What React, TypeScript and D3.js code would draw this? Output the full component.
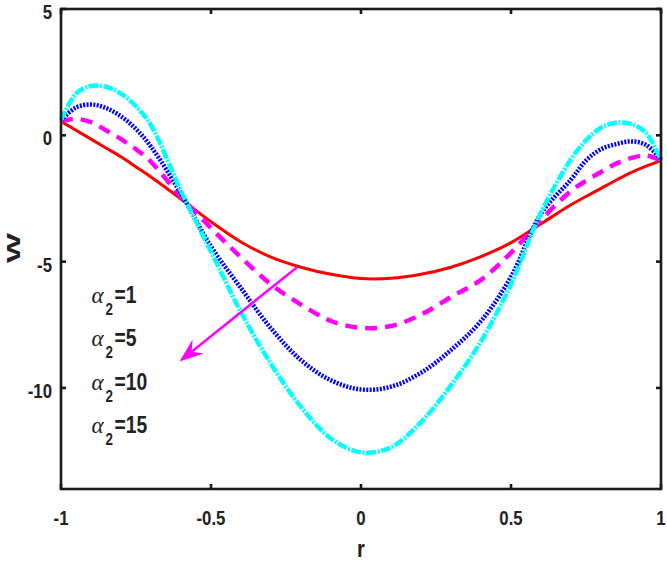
import React, { useEffect, useRef } from 'react';
import * as d3 from 'd3';

// radial coordinate samples
const rVals = [-1, -0.95, -0.9, -0.85, -0.8, -0.75, -0.7, -0.6, -0.5, -0.4, -0.3, -0.2, -0.1, 0, 0.1, 0.2, 0.3, 0.4, 0.5, 0.6, 0.7, 0.75, 0.8, 0.85, 0.9, 0.95, 1];

// W for each alpha_2
const wAlpha1 = [0.55, 0.2, -0.15, -0.5, -0.85, -1.25, -1.65, -2.52, -3.42, -4.22, -4.82, -5.22, -5.5, -5.67, -5.66, -5.5, -5.22, -4.8, -4.25, -3.5, -2.75, -2.42, -2.1, -1.78, -1.48, -1.22, -1.0];
const wAlpha5 = [0.55, 0.65, 0.52, 0.2, -0.15, -0.55, -1.05, -2.43, -3.67, -4.83, -5.9, -6.7, -7.35, -7.62, -7.55, -7.1, -6.4, -5.72, -4.65, -3.35, -2.2, -1.8, -1.45, -1.12, -0.9, -0.8, -1.0];
const wAlpha10 = [0.6, 1.1, 1.22, 1.08, 0.75, 0.25, -0.45, -2.3, -4.4, -6.05, -7.64, -8.9, -9.7, -10.06, -9.95, -9.4, -8.5, -7.35, -5.6, -3.1, -1.75, -1.0, -0.55, -0.35, -0.24, -0.38, -0.95];
const wAlpha15 = [0.6, 1.65, 1.95, 1.92, 1.65, 1.15, 0.4, -2.2, -4.6, -7.0, -9.05, -10.75, -12.0, -12.55, -12.35, -11.35, -9.9, -8.15, -5.9, -3.05, -0.95, -0.2, 0.3, 0.5, 0.45, 0.1, -0.98];

const xTicks = [-1, -0.5, 0, 0.5, 1];
const yTicks = [-10, -5, 0, 5];
const legendLabels = ['1', '5', '10', '15'];

const series = [
  { values: wAlpha1, color: '#ff0000', width: 3, dash: 'none' },
  { values: wAlpha5, color: '#ff00ff', width: 4.5, dash: '12 8' },
  { values: wAlpha10, color: '#0000ff', width: 4.5, dash: '2 1.4' },
  { values: wAlpha15, color: '#00ffff', width: 4.5, dash: '10 1.5 2 1.5' },
];

const W = 667;
const H = 564;
const numFont = '"Liberation Sans Narrow", "Liberation Sans", Arial, sans-serif';
const squeeze = 0.84; // the original uses a condensed face

const App: React.FC = () => {
  const svgRef = useRef<SVGSVGElement>(null);

  useEffect(() => {
    if (!svgRef.current) return;
    const svg = d3.select(svgRef.current);
    svg.selectAll('*').remove();

    const left = 61, right = 661, top = 9, bottom = 489;

    const x = d3.scaleLinear().domain([-1, 1]).range([left, right]);
    const y = d3.scaleLinear().domain([-14, 5]).range([bottom, top]);

    svg.append('rect').attr('width', W).attr('height', H).attr('fill', '#ffffff');

    // condensed bold text helper
    const label = (tx: number, ty: number, str: string, size: number, anchor = 'start') =>
      svg.append('text')
        .attr('transform', `translate(${tx},${ty}) scale(${squeeze},1)`)
        .attr('text-anchor', anchor)
        .attr('font-family', numFont).attr('font-weight', 'bold').attr('font-size', size)
        .attr('fill', '#222')
        .text(str);

    // curves
    series.forEach(s => {
      const pts = rVals.map((r, i) => [r, s.values[i]] as [number, number]);
      const line = d3.line<[number, number]>()
        .x(d => x(d[0]))
        .y(d => y(d[1]))
        .curve(d3.curveCatmullRom.alpha(0.5));
      svg.append('path')
        .datum(pts)
        .attr('fill', 'none')
        .attr('stroke', s.color)
        .attr('stroke-width', s.width)
        .attr('stroke-dasharray', s.dash)
        .attr('d', line);
    });

    // axes box
    svg.append('rect')
      .attr('x', left).attr('y', top)
      .attr('width', right - left).attr('height', bottom - top)
      .attr('fill', 'none').attr('stroke', '#1a1a1a').attr('stroke-width', 2.6);

    const tickLen = 5;
    xTicks.forEach(t => {
      svg.append('line').attr('x1', x(t)).attr('x2', x(t)).attr('y1', bottom).attr('y2', bottom - tickLen)
        .attr('stroke', '#1a1a1a').attr('stroke-width', 2.6);
      svg.append('line').attr('x1', x(t)).attr('x2', x(t)).attr('y1', top).attr('y2', top + tickLen)
        .attr('stroke', '#1a1a1a').attr('stroke-width', 2.6);
      label(x(t), bottom + 36, String(t), 20, 'middle');
    });
    yTicks.forEach(t => {
      svg.append('line').attr('x1', left).attr('x2', left + tickLen).attr('y1', y(t)).attr('y2', y(t))
        .attr('stroke', '#1a1a1a').attr('stroke-width', 2.6);
      svg.append('line').attr('x1', right).attr('x2', right - tickLen).attr('y1', y(t)).attr('y2', y(t))
        .attr('stroke', '#1a1a1a').attr('stroke-width', 2.6);
      label(left - 9, y(t) + 10, String(t), 20, 'end');
    });

    // axis labels
    label(x(0), 557, 'r', 24, 'middle');
    svg.append('text')
      .attr('transform', `translate(15,248) rotate(-90)`)
      .attr('text-anchor', 'middle')
      .attr('dominant-baseline', 'middle')
      .attr('font-family', numFont).attr('font-weight', 'bold').attr('font-size', 18)
      .attr('textLength', 30).attr('lengthAdjust', 'spacingAndGlyphs')
      .attr('fill', '#222')
      .text('W');

    // legend text
    const legendR = -0.898;
    const legendW = [-6.62, -8.34, -10.1, -11.78];
    legendLabels.forEach((lab, i) => {
      const tx = x(legendR);
      const ty = y(legendW[i]);
      svg.append('text')
        .attr('x', tx).attr('y', ty)
        .attr('font-family', '"Liberation Serif", "Times New Roman", serif')
        .attr('font-style', 'italic').attr('font-size', 23)
        .attr('fill', '#222')
        .text('α');
      label(tx + 14, ty + 12, '2', 16);
      label(tx + 23, ty, '=' + lab, 23);
    });

    // arrow
    const x0 = x(-0.213), y0 = y(-5.22);
    const x1 = x(-0.605), y1 = y(-8.95);
    const len = Math.hypot(x1 - x0, y1 - y0);
    const ux = (x1 - x0) / len, uy = (y1 - y0) / len;
    const nx = -uy, ny = ux;
    const headL = 24, headW = 9;
    const bx = x1 - ux * headL, by = y1 - uy * headL;
    const notchX = x1 - ux * headL * 0.65, notchY = y1 - uy * headL * 0.65;
    svg.append('line')
      .attr('x1', x0).attr('y1', y0).attr('x2', notchX).attr('y2', notchY)
      .attr('stroke', '#ff00ff').attr('stroke-width', 2.5);
    svg.append('path')
      .attr('d', `M${x1},${y1} L${bx + nx * headW},${by + ny * headW} L${notchX},${notchY} L${bx - nx * headW},${by - ny * headW} Z`)
      .attr('fill', '#ff00ff');
  }, []);

  return (
    <div style={{ position: 'absolute', left: 0, top: 0 }}>
      <svg ref={svgRef} width={W} height={H} style={{ display: 'block' }}></svg>
    </div>
  );
};

export default App;
